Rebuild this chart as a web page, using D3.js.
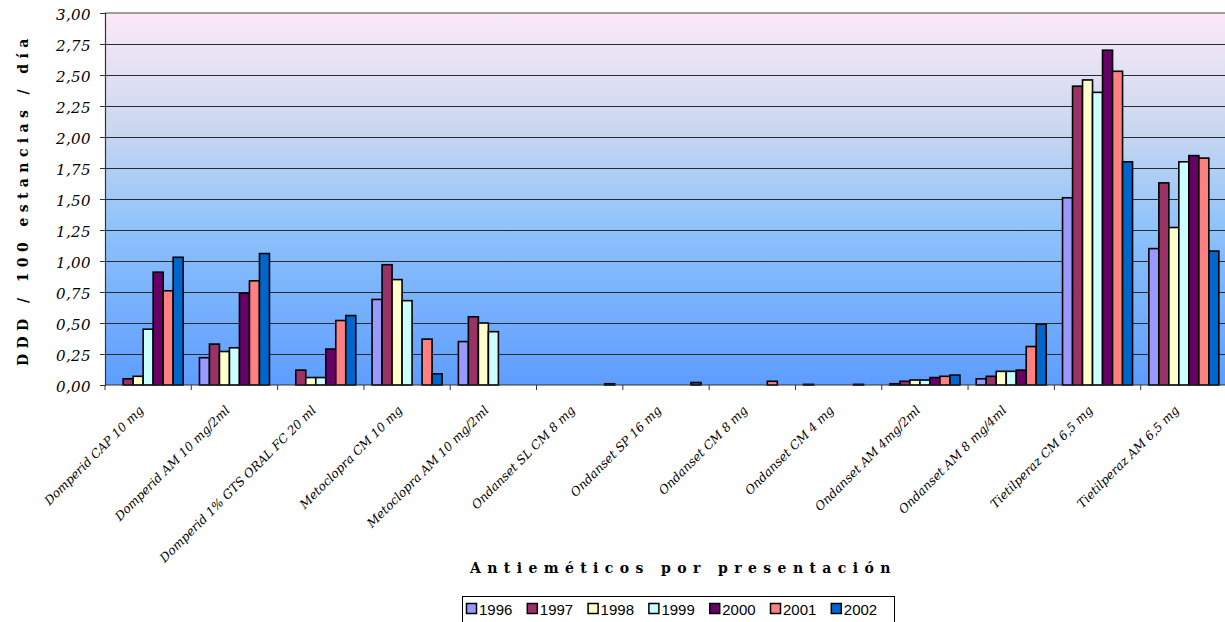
<!DOCTYPE html>
<html>
<head>
<meta charset="utf-8">
<script src="https://cdn.jsdelivr.net/npm/d3@7"></script>
<style>
  body { margin: 0; background: #fff; }
  svg { display: block; }
</style>
</head>
<body>
<svg id="chart" width="1225" height="622"></svg>
<script>
// Antiemetic presentations (x categories)
const categories = [
  "Domperid CAP 10 mg",
  "Domperid AM 10 mg/2ml",
  "Domperid 1% GTS ORAL FC 20 ml",
  "Metoclopra CM 10 mg",
  "Metoclopra AM 10 mg/2ml",
  "Ondanset SL CM 8 mg",
  "Ondanset SP 16 mg",
  "Ondanset CM 8 mg",
  "Ondanset CM 4 mg",
  "Ondanset AM 4mg/2ml",
  "Ondanset AM 8 mg/4ml",
  "Tietilperaz CM 6,5 mg",
  "Tietilperaz AM 6,5 mg"
];

// Series: one year each, DDD / 100 stays / day per presentation
const years = ["1996", "1997", "1998", "1999", "2000", "2001", "2002"];
const v1996 = [0,    0.22, 0,    0.69, 0.35, 0,    0,    0,    0.005, 0.01, 0.05, 1.51, 1.10];
const v1997 = [0.05, 0.33, 0.12, 0.97, 0.55, 0,    0,    0,    0,     0.03, 0.07, 2.41, 1.63];
const v1998 = [0.07, 0.27, 0.06, 0.85, 0.50, 0,    0,    0,    0,     0.04, 0.11, 2.46, 1.27];
const v1999 = [0.45, 0.30, 0.06, 0.68, 0.43, 0,    0,    0,    0,     0.04, 0.11, 2.36, 1.80];
const v2000 = [0.91, 0.74, 0.29, 0,    0,    0,    0,    0,    0,     0.06, 0.12, 2.70, 1.85];
const v2001 = [0.76, 0.84, 0.52, 0.37, 0,    0,    0,    0.03, 0.005, 0.07, 0.31, 2.53, 1.83];
const v2002 = [1.03, 1.06, 0.56, 0.09, 0,    0.01, 0.02, 0,    0,     0.08, 0.49, 1.80, 1.08];
const seriesValues = [v1996, v1997, v1998, v1999, v2000, v2001, v2002];

const seriesColors = ["#9999FF", "#993366", "#FFFFCC", "#CCFFFF", "#660066", "#FF8080", "#0066CC"];
const yTicks = [0, 0.25, 0.5, 0.75, 1, 1.25, 1.5, 1.75, 2, 2.25, 2.5, 2.75, 3];

const yTitle = "DDD / 100 estancias / día";
const xTitle = "Antieméticos por presentación";

const svg = d3.select("#chart");

const plot = { left: 105, top: 13, right: 1227, bottom: 385 };

const x0 = d3.scaleBand().domain(categories).range([plot.left, plot.right]).padding(0);
const x1 = d3.scaleBand().domain(years).range([0, x0.bandwidth()]).paddingInner(0).paddingOuter(0.815);
const y = d3.scaleLinear().domain([0, 3]).range([plot.bottom, plot.top]);

const fmt = v => d3.format(".2f")(v).replace(".", ",");

// background gradient of the plot area
const defs = svg.append("defs");
const grad = defs.append("linearGradient")
  .attr("id", "bg").attr("x1", 0).attr("y1", 0).attr("x2", 0).attr("y2", 1);
[["0%", "#FCE9F8"], ["30%", "#CCD8F0"], ["58%", "#8EC2FB"], ["100%", "#5E9DFF"]]
  .forEach(([o, c]) => grad.append("stop").attr("offset", o).attr("stop-color", c));

svg.append("rect")
  .attr("x", plot.left).attr("y", plot.top)
  .attr("width", plot.right - plot.left).attr("height", plot.bottom - plot.top)
  .attr("fill", "url(#bg)");

// horizontal gridlines
svg.append("g").selectAll("line")
  .data(yTicks.filter(t => t > 0 && t < 3))
  .join("line")
  .attr("x1", plot.left).attr("x2", plot.right)
  .attr("y1", d => Math.round(y(d)) + 0.5).attr("y2", d => Math.round(y(d)) + 0.5)
  .attr("stroke", "#2a2a2a").attr("stroke-width", 1);

// top border of plot area
svg.append("line")
  .attr("x1", plot.left).attr("x2", plot.right)
  .attr("y1", y(3)).attr("y2", y(3))
  .attr("stroke", "#808080").attr("stroke-width", 1.5);

// bars
const groups = svg.append("g").selectAll("g")
  .data(categories)
  .join("g")
  .attr("transform", d => `translate(${x0(d)},0)`);

groups.selectAll("rect")
  .data((c, i) => years.map((yr, k) => ({ year: yr, k, value: seriesValues[k][i] })).filter(d => d.value > 0))
  .join("rect")
  .attr("x", d => x1(d.year))
  .attr("y", d => y(d.value))
  .attr("width", x1.bandwidth())
  .attr("height", d => y(0) - y(d.value))
  .attr("fill", d => seriesColors[d.k])
  .attr("stroke", "#000")
  .attr("stroke-width", 1.6);

// y axis
const yAxis = d3.axisLeft(y).tickValues(yTicks).tickFormat(fmt).tickSize(5).tickPadding(9);
const gy = svg.append("g").attr("transform", `translate(${plot.left},0)`).call(yAxis);
gy.select(".domain").attr("stroke", "#333").attr("stroke-width", 1.2);
gy.selectAll(".tick line").attr("stroke", "#333");
gy.selectAll(".tick text")
  .attr("font-family", "'DejaVu Serif', serif")
  .attr("font-style", "italic")
  .attr("font-size", 15)
  .attr("letter-spacing", 0.4)
  .attr("fill", "#000")
  .attr("dy", "0.4em");

// x axis baseline with ticks on category boundaries
svg.append("line")
  .attr("x1", plot.left).attr("x2", plot.right)
  .attr("y1", plot.bottom).attr("y2", plot.bottom)
  .attr("stroke", "#333").attr("stroke-width", 1.2);
svg.append("g").selectAll("line")
  .data(categories)
  .join("line")
  .attr("x1", d => x0(d)).attr("x2", d => x0(d))
  .attr("y1", plot.bottom).attr("y2", plot.bottom + 5)
  .attr("stroke", "#333");

// category labels
svg.append("g").selectAll("text")
  .data(categories)
  .join("text")
  .attr("transform", d => `translate(${x0(d) + x0.bandwidth() / 2 - 4},${plot.bottom + 26}) rotate(-45)`)
  .attr("text-anchor", "end")
  .attr("font-family", "'DejaVu Serif', serif")
  .attr("font-style", "italic")
  .attr("font-size", 12.2)
  .attr("fill", "#000")
  .text(d => d);

// axis titles
svg.append("text")
  .attr("transform", "translate(28,366) rotate(-90)")
  .attr("text-anchor", "start")
  .attr("font-family", "'DejaVu Serif', serif")
  .attr("font-weight", "bold")
  .attr("font-size", 14)
  .attr("letter-spacing", 5.4)
  .attr("fill", "#000")
  .text(yTitle);

svg.append("text")
  .attr("x", 470).attr("y", 573)
  .attr("text-anchor", "start")
  .attr("font-family", "'DejaVu Serif', serif")
  .attr("font-weight", "bold")
  .attr("font-size", 14)
  .attr("letter-spacing", 6.4)
  .attr("fill", "#000")
  .text(xTitle);

// legend
const legend = svg.append("g").attr("transform", "translate(462,596)");
legend.append("rect")
  .attr("x", 0.5).attr("y", 0.5).attr("width", 432).attr("height", 40)
  .attr("fill", "#fff").attr("stroke", "#000").attr("stroke-width", 1);
const items = legend.selectAll("g.item")
  .data(years)
  .join("g")
  .attr("class", "item")
  .attr("transform", (d, i) => `translate(${4 + i * 60.8},0)`);
items.append("rect")
  .attr("x", 0.5).attr("y", 7.5).attr("width", 10).attr("height", 10)
  .attr("fill", (d, i) => seriesColors[i])
  .attr("stroke", "#000").attr("stroke-width", 1.5);
items.append("text")
  .attr("x", 13).attr("y", 19)
  .attr("font-family", "'Liberation Sans', Arial, sans-serif")
  .attr("font-size", 15)
  .attr("fill", "#000")
  .text(d => d);
</script>
</body>
</html>
